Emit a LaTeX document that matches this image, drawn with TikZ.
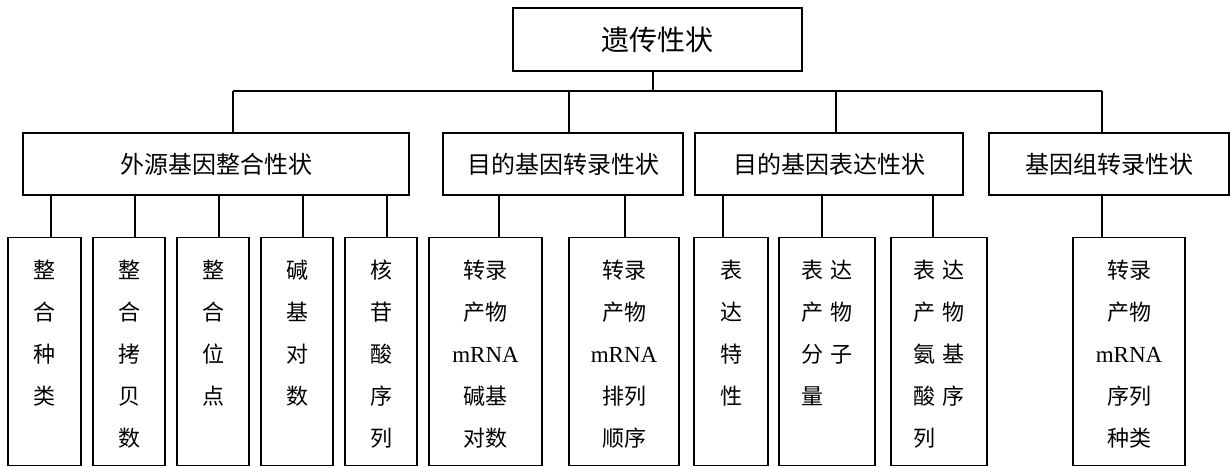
\documentclass[tikz,border=0pt]{standalone}
\usepackage{fontspec}
\setmainfont{Liberation Serif}
\newfontfamily\cjk{Noto Sans CJK SC}
\newcommand{\gap}{\hspace{8pt}}
\newcommand{\mr}{{\rmfamily\fontsize{23}{42}\selectfont mRNA}}
\newcommand{\leaftext}[2]{\parbox[c][228pt][t]{#1pt}{\centering\cjk\fontsize{22}{42}\selectfont\vspace*{22pt}#2\par}}
\begin{document}
\begin{tikzpicture}[x=1pt,y=-1pt,
  box/.style={draw, line width=1.4pt, inner sep=0pt, font=\cjk},
  topbox/.style={box, font=\cjk\fontsize{28}{28}\selectfont},
  midbox/.style={box, minimum height=62pt, font=\cjk\fontsize{24}{24}\selectfont},
  leafbox/.style={box, anchor=north},
  link/.style={line width=1.4pt}]
\useasboundingbox (0,0) rectangle (1231,466);

\node[topbox, minimum width=289pt, minimum height=63pt] (root) at (657.5,39.5) {遗传性状};

\node[midbox, minimum width=386pt] (A) at (216,164) {外源基因整合性状};
\node[midbox, minimum width=240pt] (B) at (563,164) {目的基因转录性状};
\node[midbox, minimum width=268pt] (C) at (829,164) {目的基因表达性状};
\node[midbox, minimum width=240pt] (D) at (1109,164) {基因组转录性状};

\coordinate (j0) at (653,91);
\coordinate (jA) at (233,91);
\coordinate (jB) at (569,91);
\coordinate (jC) at (836,91);
\coordinate (jD) at (1102,91);
\draw[link] (j0 |- root.south) -- (j0);
\draw[link] (jA) -- (jD);
\draw[link] (jA) -- (jA |- A.north);
\draw[link] (jB) -- (jB |- B.north);
\draw[link] (jC) -- (jC |- C.north);
\draw[link] (jD) -- (jD |- D.north);

\node[leafbox] (c1) at (44.5,237) {\leaftext{73}{整\\合\\种\\类}};
\node[leafbox] (c2) at (129,237) {\leaftext{72}{整\\合\\拷\\贝\\数}};
\node[leafbox] (c3) at (213,237) {\leaftext{72}{整\\合\\位\\点}};
\node[leafbox] (c4) at (297,237) {\leaftext{72}{碱\\基\\对\\数}};
\node[leafbox] (c5) at (381,237) {\leaftext{72}{核\\苷\\酸\\序\\列}};
\node[leafbox] (c6) at (485.5,237) {\leaftext{113}{转录\\产物\\\mr\\碱基\\对数}};
\node[leafbox] (c7) at (624,237) {\leaftext{110}{转录\\产物\\\mr\\排列\\顺序}};
\node[leafbox] (c8) at (731,237) {\leaftext{74}{表\\达\\特\\性}};
\node[leafbox] (c9) at (827,237) {\leaftext{96}{表\gap 达\\产\gap 物\\分\gap 子\\量\gap\phantom{子}}};
\node[leafbox] (c10) at (939,237) {\leaftext{96}{表\gap 达\\产\gap 物\\氨\gap 基\\酸\gap 序\\列\gap\phantom{序}}};
\node[leafbox] (c11) at (1129,237) {\leaftext{112}{转录\\产物\\\mr\\序列\\种类}};

\foreach \p/\s/\k in {A/c1/51, A/c2/135, A/c3/219, A/c4/303, A/c5/387,
                      B/c6/499, B/c7/625,
                      C/c8/723, C/c9/822, C/c10/933,
                      D/c11/1102}{
  \draw[link] (\k,0 |- \p.south) -- (\k,0 |- \s.north);
}
\end{tikzpicture}
\end{document}
